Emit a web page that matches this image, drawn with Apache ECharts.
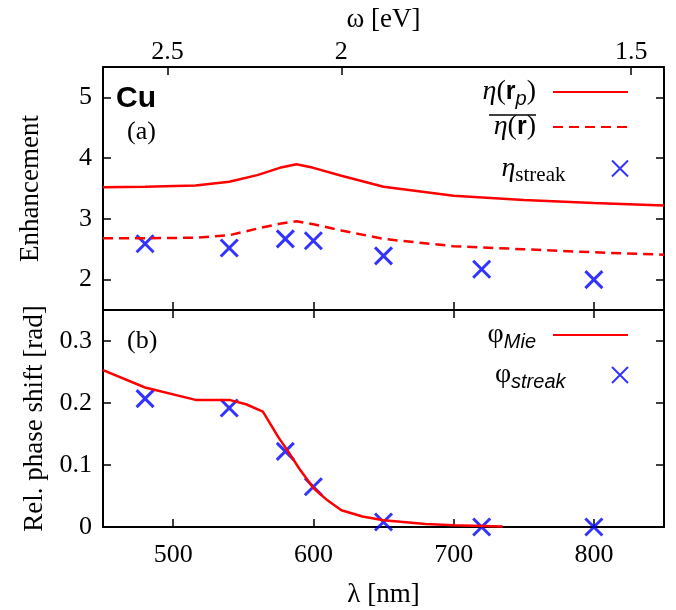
<!DOCTYPE html>
<html lang="en">
<head>
    <meta charset="UTF-8">
    <title>Cu enhancement</title>
    <script src="https://cdn.jsdelivr.net/npm/echarts@6/dist/echarts.min.js"></script>
</head>
<body style="margin:0;background:#fff">
    <div id="main" style="width:676px;height:610px"></div>
    <script type="text/javascript">
        // data
        var lambdaCurve = [450, 480, 516, 540, 560, 576, 588, 600, 620, 650, 700, 750, 800, 850];
        var etaRp = [3.52, 3.53, 3.55, 3.61, 3.72, 3.84, 3.90, 3.84, 3.71, 3.53, 3.38, 3.31, 3.26, 3.22];
        var etaMean = [2.68, 2.68, 2.69, 2.73, 2.84, 2.92, 2.96, 2.91, 2.81, 2.67, 2.55, 2.50, 2.45, 2.41];

        var lambdaMie = [450, 480, 516, 540, 552, 564, 575, 582, 590, 600, 610, 620, 635, 650, 680, 700, 735];
        var phiMie = [0.253, 0.225, 0.205, 0.205, 0.198, 0.186, 0.145, 0.122, 0.094, 0.063, 0.043, 0.027, 0.017, 0.011, 0.005, 0.003, 0.001];

        var lambdaStreak = [480, 540, 580, 600, 650, 720, 800];
        var etaStreak = [2.59, 2.52, 2.67, 2.64, 2.39, 2.17, 2.00];
        var phiStreak = [0.207, 0.192, 0.122, 0.065, 0.008, 0.000, 0.000];

        var lambdaTicks = [500, 600, 700, 800];
        var evTicks = [2.5, 2, 1.5];
        var etaTicks = [2, 3, 4, 5];
        var phiTicks = [0, 0.1, 0.2, 0.3];

        var HC = 1239.84; // eV nm

        function pairs(xs, ys) {
            return xs.map(function (x, i) { return [x, ys[i]]; });
        }

        var serif = 'Liberation Serif';
        var sans = 'Liberation Sans';
        var cross = 'path://M0,0L10,10M10,0L0,10';

        var axisLine = { show: true, onZero: false, lineStyle: { color: '#000', width: 2 } };
        var tick = { show: true, inside: true, length: 8, lineStyle: { color: '#000', width: 1.5 } };
        var tickRich = { t: { fontFamily: serif, fontSize: 26, lineHeight: 28, color: '#000' } };
        var nameStyle = { fontFamily: serif, fontSize: 27, color: '#000' };

        function fmt(v) {
            return '{t|' + String(Math.round(v * 100) / 100) + '}';
        }

        function xAx(grid, pos, showLabel, extra) {
            var a = {
                type: 'value', gridIndex: grid, position: pos, min: 450, max: 850,
                axisLine: axisLine, splitLine: { show: false },
                axisTick: Object.assign({ customValues: lambdaTicks }, tick),
                axisLabel: { show: showLabel, margin: 14, customValues: lambdaTicks, formatter: fmt, rich: tickRich }
            };
            return Object.assign(a, extra || {});
        }
        function yAx(grid, pos, showLabel, min, max, ticks, extra) {
            var a = {
                type: 'value', gridIndex: grid, position: pos, min: min, max: max,
                axisLine: axisLine, splitLine: { show: false },
                axisTick: Object.assign({ customValues: ticks }, tick),
                axisLabel: { show: showLabel, margin: 11, customValues: ticks, formatter: fmt, rich: tickRich }
            };
            return Object.assign(a, extra || {});
        }

        var rich = {
            g: { fontFamily: serif, fontStyle: 'italic', fontSize: 28, lineHeight: 34, color: '#000' },
            n: { fontFamily: serif, fontSize: 28, lineHeight: 34, color: '#000' },
            b: { fontFamily: sans, fontWeight: 'bold', fontSize: 25, lineHeight: 34, color: '#000' },
            sp: { fontFamily: sans, fontStyle: 'italic', fontSize: 20, lineHeight: 20, padding: [14, 0, 0, 0], color: '#000' },
            ss: { fontFamily: serif, fontSize: 21, lineHeight: 21, padding: [14, 0, 0, 0], color: '#000' },
            pad: { width: 12, fontSize: 10 }
        };
        var legendText = {
            eta_rp: '{g|η}{n|(}{b|r}{sp|p}{n|)}{pad|}',
            eta_mean: '{g|η}{n|(}{b|r}{n|)}{pad|}',
            eta_streak: '{g|η}{ss|streak}{pad|}',
            phi_mie: '{n|φ}{sp|Mie}{pad|}',
            phi_streak: '{n|φ}{sp|streak}{pad|}'
        };
        function leg(name, centerY, isLine) {
            var l = {
                data: [name], orient: 'vertical', align: 'right', right: 47, top: centerY - 17,
                padding: 0, itemWidth: 75, itemHeight: 16, selectedMode: false,
                formatter: function (n) { return legendText[n]; },
                textStyle: { rich: rich }
            };
            // line entries: hide the marker that the legend puts in the middle
            if (isLine) l.itemStyle = { opacity: 0 };
            return l;
        }

        var myChart = echarts.init(document.getElementById('main'), null, { renderer: 'canvas' });
        var option = {
            backgroundColor: '#fff',
            animation: false,
            grid: [
                { left: 103, right: 12, top: 67, height: 243 },
                { left: 103, right: 12, top: 310, height: 217 }
            ],
            xAxis: [
                // omega axis on top of panel (a)
                {
                    type: 'value', gridIndex: 0, position: 'top', min: 450, max: 850,
                    axisLine: axisLine, splitLine: { show: false },
                    axisTick: Object.assign({ customValues: evTicks.map(function (e) { return HC / e; }) }, tick),
                    axisLabel: {
                        margin: 1,
                        customValues: evTicks.map(function (e) { return HC / e; }),
                        formatter: function (v) { return fmt(HC / v); },
                        rich: tickRich
                    },
                    name: 'ω [eV]', nameLocation: 'middle', nameGap: 34,
                    nameTextStyle: nameStyle
                },
                xAx(0, 'bottom', false),
                xAx(1, 'bottom', true, {
                    name: 'λ [nm]', nameLocation: 'middle', nameGap: 54,
                    nameTextStyle: nameStyle
                }),
                xAx(1, 'top', false)
            ],
            yAxis: [
                yAx(0, 'left', true, 1.5, 5.5, etaTicks, {
                    name: 'Enhancement', nameLocation: 'middle', nameGap: 59,
                    nameTextStyle: nameStyle
                }),
                yAx(0, 'right', false, 1.5, 5.5, etaTicks),
                yAx(1, 'left', true, 0, 0.35, phiTicks, {
                    name: 'Rel. phase shift [rad]', nameLocation: 'middle', nameGap: 53,
                    nameTextStyle: nameStyle
                }),
                yAx(1, 'right', false, 0, 0.35, phiTicks)
            ],
            legend: [
                leg('eta_rp', 92, true),
                leg('eta_mean', 130, true),
                leg('eta_streak', 168, false),
                leg('phi_mie', 335, true),
                leg('phi_streak', 375, false)
            ],
            graphic: [
                { type: 'text', left: 116, top: 84, style: { text: 'Cu', font: 'bold 30px "Liberation Sans"', fill: '#000' } },
                { type: 'text', left: 127, top: 119, style: { text: '(a)', font: '26px "Liberation Serif"', fill: '#000' } },
                { type: 'text', left: 127, top: 328, style: { text: '(b)', font: '26px "Liberation Serif"', fill: '#000' } },
                // overline of the averaged enhancement in the legend
                { type: 'line', shape: { x1: 489, y1: 115, x2: 536, y2: 115 }, style: { stroke: '#000', lineWidth: 1.5 } }
            ],
            series: [
                {
                    name: 'eta_rp', type: 'line', xAxisIndex: 1, yAxisIndex: 0,
                    symbol: 'none', lineStyle: { color: '#ff0000', width: 2.5 },
                    itemStyle: { color: '#ff0000' },
                    data: pairs(lambdaCurve, etaRp)
                },
                {
                    name: 'eta_mean', type: 'line', xAxisIndex: 1, yAxisIndex: 0,
                    symbol: 'none', lineStyle: { color: '#ff0000', width: 2.5, type: [10, 6] },
                    itemStyle: { color: '#ff0000' },
                    data: pairs(lambdaCurve, etaMean)
                },
                {
                    name: 'eta_streak', type: 'scatter', xAxisIndex: 1, yAxisIndex: 0,
                    symbol: cross, symbolSize: 17,
                    itemStyle: { color: '#0000ff', borderColor: '#0000ff', borderWidth: 3 },
                    data: pairs(lambdaStreak, etaStreak)
                },
                {
                    name: 'phi_mie', type: 'line', xAxisIndex: 2, yAxisIndex: 2,
                    symbol: 'none', lineStyle: { color: '#ff0000', width: 2.5 },
                    itemStyle: { color: '#ff0000' },
                    data: pairs(lambdaMie, phiMie)
                },
                {
                    name: 'phi_streak', type: 'scatter', xAxisIndex: 2, yAxisIndex: 2,
                    symbol: cross, symbolSize: 17,
                    itemStyle: { color: '#0000ff', borderColor: '#0000ff', borderWidth: 3 },
                    data: pairs(lambdaStreak, phiStreak)
                }
            ]
        };
        myChart.setOption(option);
    </script>
</body>
</html>
